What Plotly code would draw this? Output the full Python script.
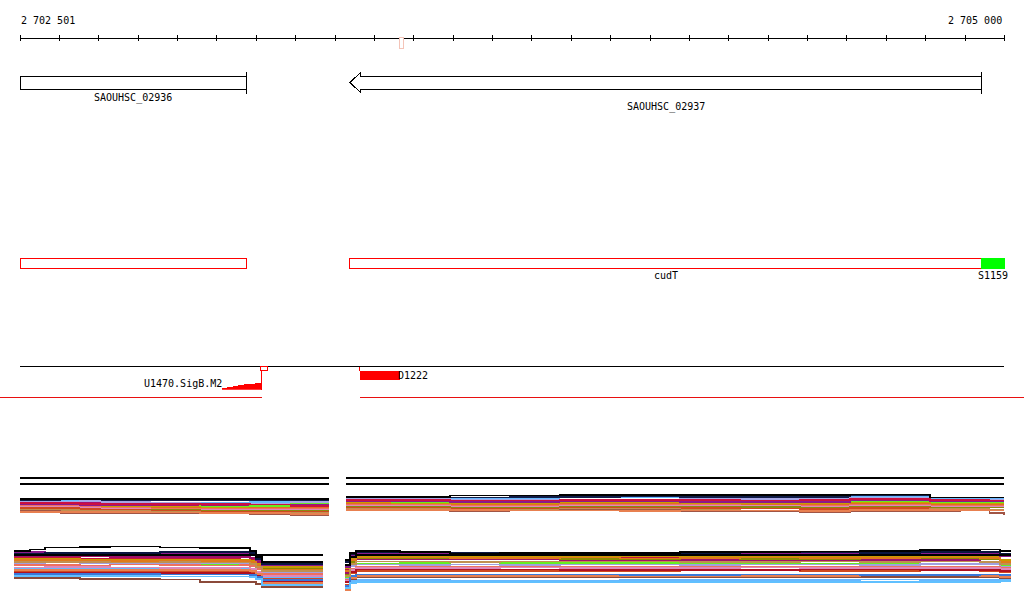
import plotly.graph_objects as go

# ---------------- data ----------------
VIEW_START = 2702501
VIEW_END = 2705000
RULER_TICKS = [2702501 + 100 * i for i in range(25)] + [2705000]
RULER_LABELS = ["2 702 501", "2 705 000"]

GENE_NAMES = ["SAOUHSC_02936", "SAOUHSC_02937"]
GENE_START = [2702501, 2703339]
GENE_END = [2703075, 2704942]
GENE_STRAND = ["+", "-"]

FEAT_NAMES = ["", "cudT", "S1159"]
FEAT_START = [2702501, 2703339, 2704942]
FEAT_END = [2703075, 2704942, 2705000]
FEAT_FILL = ["white", "white", "#00ff00"]
FEAT_LINE = ["#ff0000", "#ff0000", "#00ff00"]

SIGB_NAME = "U1470.SigB.M2"
SIGB_BOX = [2703111, 2703129]
SIGB_STEP_X = [2703014, 2703028, 2703043, 2703057, 2703071, 2703086, 2703100, 2703115]
SIGB_SCORE = [1.0, 2.0, 3.0, 4.0, 5.0, 5.7, 6.7, 6.7]
D_NAME = "D1222"
D_START, D_END = 2703364, 2703466
SEG_BREAK = [2703116, 2703364]
MARKER_POS = [2703464, 2703475]

# panel 1 (upper expression panel)
P1_LEFT_X = [2702501, 2702603, 2702653, 2702704, 2702831, 2702958, 2703085, 2703187, 2703286]
P1_RIGHT_X = [2703329, 2703441, 2703593, 2703745, 2703872, 2704025, 2704177, 2704330,
              2704482, 2704609, 2704736, 2704812, 2704888, 2704964, 2705000]
P1_REF_LEVELS = [42, 36]
P1_COLORS = ["#66b8ff", "#101c48", "#a6a6e6", "#a8106c", "#66ee22", "#c8a000", "#e07020",
             "#f07060", "#dd88bb", "#8a8a10", "#d04a20", "#c09050", "#a05545", "#8b1a8b",
             "#e88050", "#cc1040", "#000000"]
P1_LEFT = [
    [19.5, 19.5, 17, 17, 17, 17, 18, 19.5, 19.5],
    [20, 18.5, 18.5, 20, 20, 20, 20, 20, 20],
    [18.5, 18.5, 19, 18, 17, 16.5, 16.5, 18, 18],
    [17.5, 17.5, 17.5, 16.5, 14.5, 14.5, 14.5, 15, 15],
    [16.5, 15, 16.5, 15.5, 15.5, 13, 14, 16, 16],
    [15.5, 15.5, 14, 14, 13, 12.5, 12.5, 13.5, 13.5],
    [15, 14.5, 13.5, 12.5, 12, 11.5, 12.5, 12.5, 12.5],
    [14, 14, 13, 12, 11, 11, 11, 11.5, 11.5],
    [13, 13, 12, 11.5, 10.5, 10.5, 10.5, 10, 10],
    [11, 11, 10.5, 10.5, 10, 9, 9.5, 9, 9],
    [12, 12, 11, 10, 9, 8, 8, 8.5, 8.5],
    [10, 10, 9.5, 9, 8, 7.5, 7.5, 7, 7],
    [9, 7, 6.5, 6.5, 6.5, 6.5, 6, 5, 5],
    [16, 16, 15, 14.5, 15.5, 15.5, 15.5, 15.5, 15.5],
    [8, 8, 8, 8, 7.5, 7, 7, 6, 6],
    [17, 17, 16, 16, 16, 16, 15.5, 14, 14],
    [21, 21, 21, 21, 21, 21, 21, 21, 21],
]
P1_RIGHT = [
    [21.5, 21.5, 22, 22, 22.5, 22.5, 23, 23, 23.5, 24, 24, 21.5, 21.5, 21, 21],
    [22.5, 22.5, 22.5, 23, 23, 23.5, 23, 23, 23, 24.5, 24.5, 22.5, 22.5, 22.5, 22.5],
    [21, 21, 20, 20, 20.5, 20.5, 21, 21, 21, 22, 22, 20.5, 20.5, 20, 20],
    [19.5, 19, 19, 18.5, 19.5, 19.5, 19, 19, 19.5, 20.5, 20.5, 19.5, 19.5, 19, 19],
    [18, 18, 17.5, 17.5, 18, 18, 18.5, 18.5, 17, 18.5, 18.5, 17.5, 17.5, 17.5, 17.5],
    [17, 16.5, 16.5, 16, 17, 17, 16.5, 16.5, 16, 17.5, 17.5, 16.5, 16.5, 16.5, 16.5],
    [16, 15.5, 15.5, 15, 16, 16, 15.5, 15, 15, 16, 16, 15.5, 15.5, 15, 15],
    [15, 15, 14.5, 14.5, 15, 15.5, 15, 14.5, 14.5, 15, 15, 14.5, 14.5, 14, 14],
    [14, 14, 13.5, 13.5, 14.5, 14.5, 14, 14, 13.5, 14, 14, 13.5, 13.5, 13.5, 13.5],
    [13, 13, 12.5, 12.5, 13, 13.5, 13, 13, 12.5, 13, 13, 12.5, 12.5, 12.5, 12.5],
    [12, 12, 11.5, 11.5, 12, 12.5, 12, 11.5, 11, 12, 12, 11.5, 11.5, 10, 10],
    [11, 11, 10.5, 10.5, 11, 11.5, 10, 9.5, 9.5, 10.5, 10.5, 11, 11, 10.5, 10.5],
    [9.5, 9.5, 9, 9.5, 10, 10, 8.5, 8.5, 8, 9, 9, 9, 10, 7, 5],
    [18.5, 18.5, 18, 18, 18.5, 18.5, 18, 18, 18, 19.5, 19.5, 18.5, 18.5, 18.5, 18.5],
    [10, 10, 10, 9.5, 9.5, 9, 9.5, 9.5, 9, 10, 10, 10, 10, 9.5, 9.5],
    [20, 20, 19.5, 19.5, 20, 20, 20, 19.5, 20, 21, 21, 20, 20, 19.5, 19.5],
    [23, 23, 24.5, 24.5, 25, 25, 25, 25, 25, 25.5, 25.5, 22.5, 22.5, 22.5, 22.5],
]

# panel 2 (lower expression panel)
P2_LEFT_X = [2702486, 2702526, 2702564, 2702653, 2702730, 2702857, 2702958, 2703060,
             2703085, 2703100, 2703116, 2703187, 2703271]
P2_RIGHT_X = [2703326, 2703339, 2703354, 2703466, 2703593, 2703720, 2703872, 2704025,
              2704177, 2704330, 2704482, 2704634, 2704787, 2704939, 2704990, 2705018]
P2_COLORS = ["#a0106a", "#c8143c", "#c89a00", "#8c8c00", "#e07a1a", "#66ee22", "#a0a0e0",
             "#66b8ff", "#ee7060", "#dd88bb", "#d04a20", "#b01020", "#8b4a3a", "#e88050",
             "#3a78d8", "#c09050", "#60c0ff", "#8b1a8b", "#0a1540", "#000000", "#000000"]
P2_LEFT = [
    [39, 39, 38.5, 38.5, 38, 38, 38, 38, 37, 33, 29, 29, 29],
    [37.5, 37.5, 37, 36.5, 36.5, 36, 36, 35.5, 35, 31, 27, 27, 27],
    [36, 36, 36, 35.5, 35.5, 35, 35.5, 35, 34, 31, 28, 28, 28],
    [34, 34, 34.5, 34, 33.5, 33.5, 33, 33.5, 32, 29, 26, 26, 26],
    [35, 35, 35, 34.5, 34, 34, 34, 34, 33, 30, 25, 25, 25],
    [31, 31, 30.5, 31.5, 31.5, 31, 31, 31.5, 30, 27, 23, 23, 23],
    [32, 32, 32.5, 32, 32, 32, 32, 32, 31, 28, 22, 22, 22],
    [26, 26, 26, 26, 26, 26, 26, 26, 25, 22, 18, 18, 18],
    [30, 30, 30, 29.5, 30.5, 30, 29.5, 30, 29, 26, 21, 21, 21],
    [27.5, 27.5, 28, 28, 27.5, 27, 27, 27.5, 26, 23, 19, 19, 19],
    [24, 24, 24, 23.5, 23.5, 23.5, 23, 23, 22, 20, 16, 16, 16],
    [22, 22, 22, 22, 22, 22, 22, 22, 21, 19, 14, 14, 14],
    [17, 17, 17, 16, 16, 15.5, 13, 13, 13, 11, 8, 8, 8],
    [25, 25, 25, 25, 25, 25, 25, 25, 24, 21, 12, 12, 12],
    [21, 21, 21, 21, 21, 20.5, 20.5, 20.5, 20, 18, 15, 15, 15],
    [33, 33, 33, 33, 32.5, 33, 32.5, 32.5, 31, 28, 24, 24, 24],
    [19, 19, 19, 19, 19, 18.5, 18.5, 18.5, 18, 16, 10, 10, 10],
    [42, 43, 42, 42, 41.5, 41.5, 41.5, 41.5, 41, 35, 30, 30, 30],
    [41, 41, 42, 42, 42, 43, 43, 43, 42, 36, 31, 31, 31],
    [40, 40, 40, 40, 40, 40, 40, 40, 40, 40, 40, 40, 40],
    [44, 45.5, 47.5, 48, 48.5, 47.5, 47, 47, 44, 38, 33, 33, 33],
]
P2_RIGHT = [
    [22, 34, 36, 36, 35.5, 35.5, 35, 35, 35, 34.5, 34.5, 35, 35, 35.5, 33, 33],
    [25, 36, 38, 38, 37.5, 37.5, 37, 37, 37, 37, 37.5, 37.5, 37, 37, 34, 34],
    [27, 37, 39, 39, 38.5, 38.5, 38, 38.5, 38, 38.5, 38.5, 38, 38.5, 38, 35, 35],
    [20, 33, 36.5, 36.5, 37, 36.5, 36, 36, 36.5, 36, 36, 36.5, 36.5, 36, 32, 32],
    [24, 35, 37.5, 37.5, 37, 37, 37.5, 36.5, 37, 37.5, 37, 37, 37.5, 37, 33, 33],
    [18, 30, 31.5, 32, 32.5, 32, 32, 32, 31.5, 31, 31, 32, 31.5, 31.5, 30, 30],
    [16, 29, 30.5, 30, 30.5, 30, 30.5, 30.5, 30, 30.5, 30.5, 30, 31, 31, 28, 28],
    [8, 14, 15, 15, 14.5, 14.5, 14.5, 15, 15, 15, 15, 15.5, 15, 15, 16, 16],
    [15, 26, 28, 28, 28.5, 28, 28, 28.5, 28, 28, 28, 28.5, 28, 28, 27, 27],
    [14, 25, 27, 27, 27, 27.5, 27, 27, 27, 27.5, 27, 27, 27, 27, 26, 26],
    [10, 22, 24, 24, 24, 24, 24, 24, 24.5, 24.5, 24, 24, 24.5, 24, 23, 23],
    [13, 23, 25.5, 25.5, 25.5, 25.5, 25, 25, 25, 25, 25.5, 25.5, 25, 25, 24, 24],
    [6, 16, 18, 18, 18, 18, 17.5, 17.5, 17.5, 17.5, 17.5, 18, 18, 18, 17, 17],
    [5, 17, 19, 19, 19, 19, 19, 19, 19, 19, 19, 19.5, 19.5, 19, 18, 18],
    [9, 19, 20.5, 20.5, 20.5, 20.5, 20.5, 20, 20, 20.5, 20.5, 20, 20, 20.5, 20, 20],
    [19, 31, 33.5, 33.5, 33, 33.5, 33.5, 33.5, 33, 33, 33.5, 33, 33.5, 33, 31, 31],
    [7, 12, 13, 13, 13, 13, 13, 13, 13, 13, 13, 13, 13, 13, 14, 14],
    [28, 39, 41.5, 41, 41, 41, 41, 40.5, 41, 41, 41.5, 41.5, 42, 42, 39, 39],
    [33, 41, 43, 42.5, 42, 42.5, 41.5, 41.5, 42, 42.5, 42.5, 42, 43, 43, 41, 41],
    [30, 38, 40, 40, 40, 40, 40, 40, 40, 40, 40, 40, 40, 40, 40, 40],
    [35, 42, 44, 43, 41.5, 42, 42, 42, 43, 43, 43.5, 44, 45, 45.5, 44, 44],
]

# ---------------- layout helpers (pixel rows of tracks) ----------------
W, H = 1024, 611
PX_PER_BP = 984 / 2499
X_MIN = VIEW_START - 20 / PX_PER_BP
X_MAX = VIEW_END + 20 / PX_PER_BP
FONT = dict(family="DejaVu Sans Mono", size=10, color="black")


def dom(top_px, bot_px):
    return [1 - bot_px / H, 1 - top_px / H]


fig = go.Figure()
shapes = []
ann = []

def line_shape(x0, x1, y0, y1, color="black", width=1):
    shapes.append(dict(type="line", xref="x", yref="y", x0=x0, x1=x1, y0=y0, y1=y1,
                       line=dict(color=color, width=width)))

def rect_shape(x0, x1, y0, y1, color="black", fill="white", width=1):
    shapes.append(dict(type="rect", xref="x", yref="y", x0=x0, x1=x1, y0=y0, y1=y1,
                       line=dict(color=color, width=width), fillcolor=fill))

# ruler
line_shape(VIEW_START, VIEW_END, 38.5, 38.5)
tx, ty = [], []
for t in RULER_TICKS:
    tx += [t, t, None]
    ty += [35, 41, None]
fig.add_trace(go.Scatter(x=tx, y=ty, mode="lines", line=dict(color="black", width=1),
                         hoverinfo="skip", showlegend=False))
shapes.append(dict(type="rect", xref="x", yref="y", x0=MARKER_POS[0], x1=MARKER_POS[1],
                   y0=37.5, y1=48, line=dict(color="#f4c4b8", width=1), fillcolor="white"))
ann.append(dict(x=VIEW_START, y=20, text=RULER_LABELS[0], xanchor="left", yanchor="middle"))
ann.append(dict(x=VIEW_END, y=20, text=RULER_LABELS[1], xanchor="right", yanchor="middle", xshift=-1))

# genes
label_rows = [97.5, 107]
for name, s, e, strand, row in zip(GENE_NAMES, GENE_START, GENE_END, GENE_STRAND, label_rows):
    if strand == "+":
        rect_shape(s, e, 76.5, 89.5)
        line_shape(e, e, 72, 94)
    else:
        hb = s + 11 / PX_PER_BP
        path = (f"M {s},82.5 L {hb},72 L {hb},76.5 L {e},76.5 L {e},89.5 L {hb},89.5 "
                f"L {hb},93 Z")
        shapes.append(dict(type="path", xref="x", yref="y", path=path,
                           line=dict(color="black", width=1), fillcolor="white"))
        line_shape(e, e, 72, 94)
    ann.append(dict(x=(s + e) / 2, y=row, text=name, xanchor="center", yanchor="middle"))

# feature track
for name, s, e, fc, lc in zip(FEAT_NAMES, FEAT_START, FEAT_END, FEAT_FILL, FEAT_LINE):
    rect_shape(s, e, 258.5, 268.5, color=lc, fill=fc)
    if name:
        ann.append(dict(x=(s + e) / 2, y=275.5, text=name, xanchor="center", yanchor="middle"))

# TSS / promoter track
line_shape(VIEW_START, VIEW_END, 366.5, 366.5)
rect_shape(SIGB_BOX[0], SIGB_BOX[1], 366.5, 370.5, color="#ff0000")
line_shape(SIGB_STEP_X[-1], SIGB_STEP_X[-1], 370.5, 389.7, color="#ff0000")
fig.add_trace(go.Scatter(x=SIGB_STEP_X, y=SIGB_SCORE, yaxis="y4", mode="lines",
                         line=dict(color="#ff0000", width=1, shape="hv"), fill="tozeroy",
                         fillcolor="#ff0000", hoverinfo="skip", showlegend=False))
ann.append(dict(x=SIGB_STEP_X[0], y=383.5, text=SIGB_NAME, xanchor="right", yanchor="middle", xshift=1))
line_shape(D_START, D_START, 366.5, 371, color="#ff0000")
rect_shape(D_START, D_END, 371, 379.5, color="#ff0000", fill="#ff0000", width=0)
ann.append(dict(x=D_END, y=375.5, text=D_NAME, xanchor="left", yanchor="middle", xshift=-3))

line_shape(X_MIN, SEG_BREAK[0], 397.5, 397.5, color="#e81010")
line_shape(SEG_BREAK[1], X_MAX, 397.5, 397.5, color="#e81010")

# expression panels
def seg_xy(lx, rx, ly, ry):
    return lx + [None] + rx, ly + [None] + ry

for lvl in P1_REF_LEVELS:
    x, y = seg_xy(P1_LEFT_X, P1_RIGHT_X, [lvl] * len(P1_LEFT_X), [lvl] * len(P1_RIGHT_X))
    fig.add_trace(go.Scatter(x=x, y=y, yaxis="y2", mode="lines",
                             line=dict(color="black", width=1.3), hoverinfo="skip",
                             showlegend=False))
for c, ly, ry in zip(P1_COLORS, P1_LEFT, P1_RIGHT):
    x, y = seg_xy(P1_LEFT_X, P1_RIGHT_X, ly, ry)
    fig.add_trace(go.Scatter(x=x, y=y, yaxis="y2", mode="lines",
                             line=dict(color=c, width=1.2, shape="hv"), hoverinfo="skip",
                             showlegend=False))
for c, ly, ry in zip(P2_COLORS, P2_LEFT, P2_RIGHT):
    x, y = seg_xy(P2_LEFT_X, P2_RIGHT_X, ly, ry)
    fig.add_trace(go.Scatter(x=x, y=y, yaxis="y3", mode="lines",
                             line=dict(color=c, width=1.4, shape="hv"), hoverinfo="skip",
                             showlegend=False))

for a in ann:
    a.update(xref="x", yref="y", showarrow=False, font=FONT, borderpad=0)

hidden = dict(visible=False, showgrid=False, zeroline=False, fixedrange=True)
fig.update_layout(
    width=W, height=H, autosize=False,
    margin=dict(l=0, r=0, t=0, b=0, pad=0),
    paper_bgcolor="white", plot_bgcolor="white",
    xaxis=dict(range=[X_MIN, X_MAX], domain=[0, 1], **hidden),
    yaxis=dict(range=[H, 0], domain=[0, 1], **hidden),
    yaxis2=dict(range=[0, 50], domain=dom(470, 520), anchor="x", **hidden),
    yaxis3=dict(range=[0, 55], domain=dom(540, 595), anchor="x", **hidden),
    yaxis4=dict(range=[0, 10], domain=dom(379.7, 389.7), anchor="x", **hidden),
    shapes=shapes, annotations=ann, showlegend=False,
)
POST = ("document.body.style.margin='0';"
        "document.querySelectorAll('.scatterlayer path, .shapelayer path')"
        ".forEach(function(p){p.style.shapeRendering='crispEdges';});")
fig.write_html("out.html", post_script=POST, config={"displayModeBar": False})
